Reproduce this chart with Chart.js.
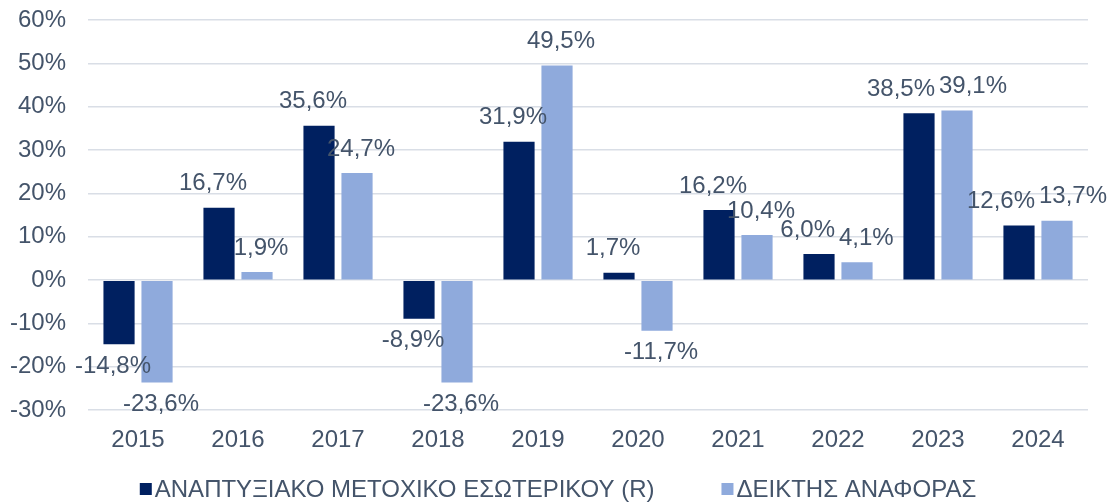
<!DOCTYPE html>
<html>
<head>
<meta charset="utf-8">
<script src="https://cdn.jsdelivr.net/npm/chart.js@4"></script>
<style>
  html, body { margin: 0; padding: 0; background: #fff; }
  #wrap { width: 1112px; height: 502px; }
</style>
</head>
<body>
<div id="wrap"><canvas id="canvas"></canvas></div>
<script>
let years = ['2015', '2016', '2017', '2018', '2019', '2020', '2021', '2022', '2023', '2024'];
let fundValues = [-14.8, 16.7, 35.6, -8.9, 31.9, 1.7, 16.2, 6.0, 38.5, 12.6];
let benchValues = [-23.6, 1.9, 24.7, -23.6, 49.5, -11.7, 10.4, 4.1, 39.1, 13.7];
let fundLabel = 'ΑΝΑΠΤΥΞΙΑΚΟ ΜΕΤΟΧΙΚΟ ΕΣΩΤΕΡΙΚΟΥ (R)';
let benchLabel = 'ΔΕΙΚΤΗΣ ΑΝΑΦΟΡΑΣ';

let textColor = '#44546A';
let fontFamily = '"Liberation Sans", Arial, sans-serif';
let fontSize = 24;

function pct(v) {
  return v.toFixed(1).replace('.', ',') + '%';
}

// draws the value above (or below) each bar, like excel's "outside end",
// nudging the two labels of a year apart when they would collide
let valueLabels = {
  id: 'valueLabels',
  afterDatasetsDraw(chart) {
    let ctx = chart.ctx;
    ctx.save();
    ctx.font = fontSize + 'px ' + fontFamily;
    ctx.fillStyle = textColor;
    ctx.textAlign = 'center';
    ctx.textBaseline = 'middle';
    let a = chart.getDatasetMeta(0).data;
    let b = chart.getDatasetMeta(1).data;
    years.forEach((yr, j) => {
      let v1 = fundValues[j], v2 = benchValues[j];
      let l1 = { t: pct(v1), x: a[j].x - 6, y: v1 >= 0 ? a[j].y - 24 : a[j].y + 22 };
      let l2 = { t: pct(v2), x: b[j].x + 4, y: v2 >= 0 ? b[j].y - 24 : b[j].y + 22 };
      l1.w = ctx.measureText(l1.t).width;
      l2.w = ctx.measureText(l2.t).width;
      if (Math.abs(l1.y - l2.y) < fontSize) {
        let overlap = (l1.x + l1.w / 2 + 4) - (l2.x - l2.w / 2);
        if (overlap > 0) {
          l1.x -= overlap / 2;
          l2.x += overlap / 2;
        }
      }
      ctx.fillText(l1.t, l1.x, l1.y);
      ctx.fillText(l2.t, l2.x, l2.y);
    });
    ctx.restore();
  }
};

// small legend under the chart: square + text, little gap like excel
let bottomLegend = {
  id: 'bottomLegend',
  afterDraw(chart) {
    let ctx = chart.ctx;
    ctx.save();
    ctx.font = fontSize + 'px ' + fontFamily;
    ctx.textBaseline = 'middle';
    let box = 12, gap = 3, spacing = 67;
    let items = chart.data.datasets.map(ds => ({
      text: ds.label, color: ds.backgroundColor, w: ctx.measureText(ds.label).width
    }));
    let total = items.reduce((s, it) => s + box + gap + it.w, 0) + spacing * (items.length - 1);
    let x = (chart.width - total) / 2 + 2;
    let y = 489;
    items.forEach(it => {
      ctx.fillStyle = it.color;
      ctx.fillRect(x, y - box / 2, box, box);
      ctx.fillStyle = textColor;
      ctx.fillText(it.text, x + box + gap, y + 1);
      x += box + gap + it.w + spacing;
    });
    ctx.restore();
  }
};

let options = {
  type: 'bar',
  data: {
    labels: years,
    datasets: [{
      label: fundLabel,
      data: fundValues,
      backgroundColor: '#002060',
      borderWidth: 0,
      barPercentage: 0.82,
      categoryPercentage: 0.76
    }, {
      label: benchLabel,
      data: benchValues,
      backgroundColor: '#8FAADC',
      borderWidth: 0,
      barPercentage: 0.82,
      categoryPercentage: 0.76
    }]
  },
  options: {
    responsive: true,
    maintainAspectRatio: false,
    animation: false,
    layout: {
      padding: { left: -12, right: 24, top: 20, bottom: 31 }
    },
    scales: {
      x: {
        grid: { display: false, drawTicks: false },
        border: { display: false },
        ticks: {
          color: textColor,
          font: { family: fontFamily, size: fontSize },
          padding: 16
        }
      },
      y: {
        min: -30,
        max: 60,
        grid: { color: '#D9DEE6', lineWidth: 1.5, drawTicks: false },
        border: { display: false },
        ticks: {
          stepSize: 10,
          color: textColor,
          padding: 22,
          font: { family: fontFamily, size: fontSize },
          callback: v => v + '%'
        },
        // let the top tick label hang over the padding instead of pushing the plot down
        afterFit: s => { s.paddingTop = 0; s.paddingBottom = 0; }
      }
    },
    plugins: {
      legend: { display: false },
      tooltip: { enabled: false }
    }
  },
  plugins: [valueLabels, bottomLegend]
};

let chart = new Chart(document.getElementById('canvas'), options);
</script>
</body>
</html>
